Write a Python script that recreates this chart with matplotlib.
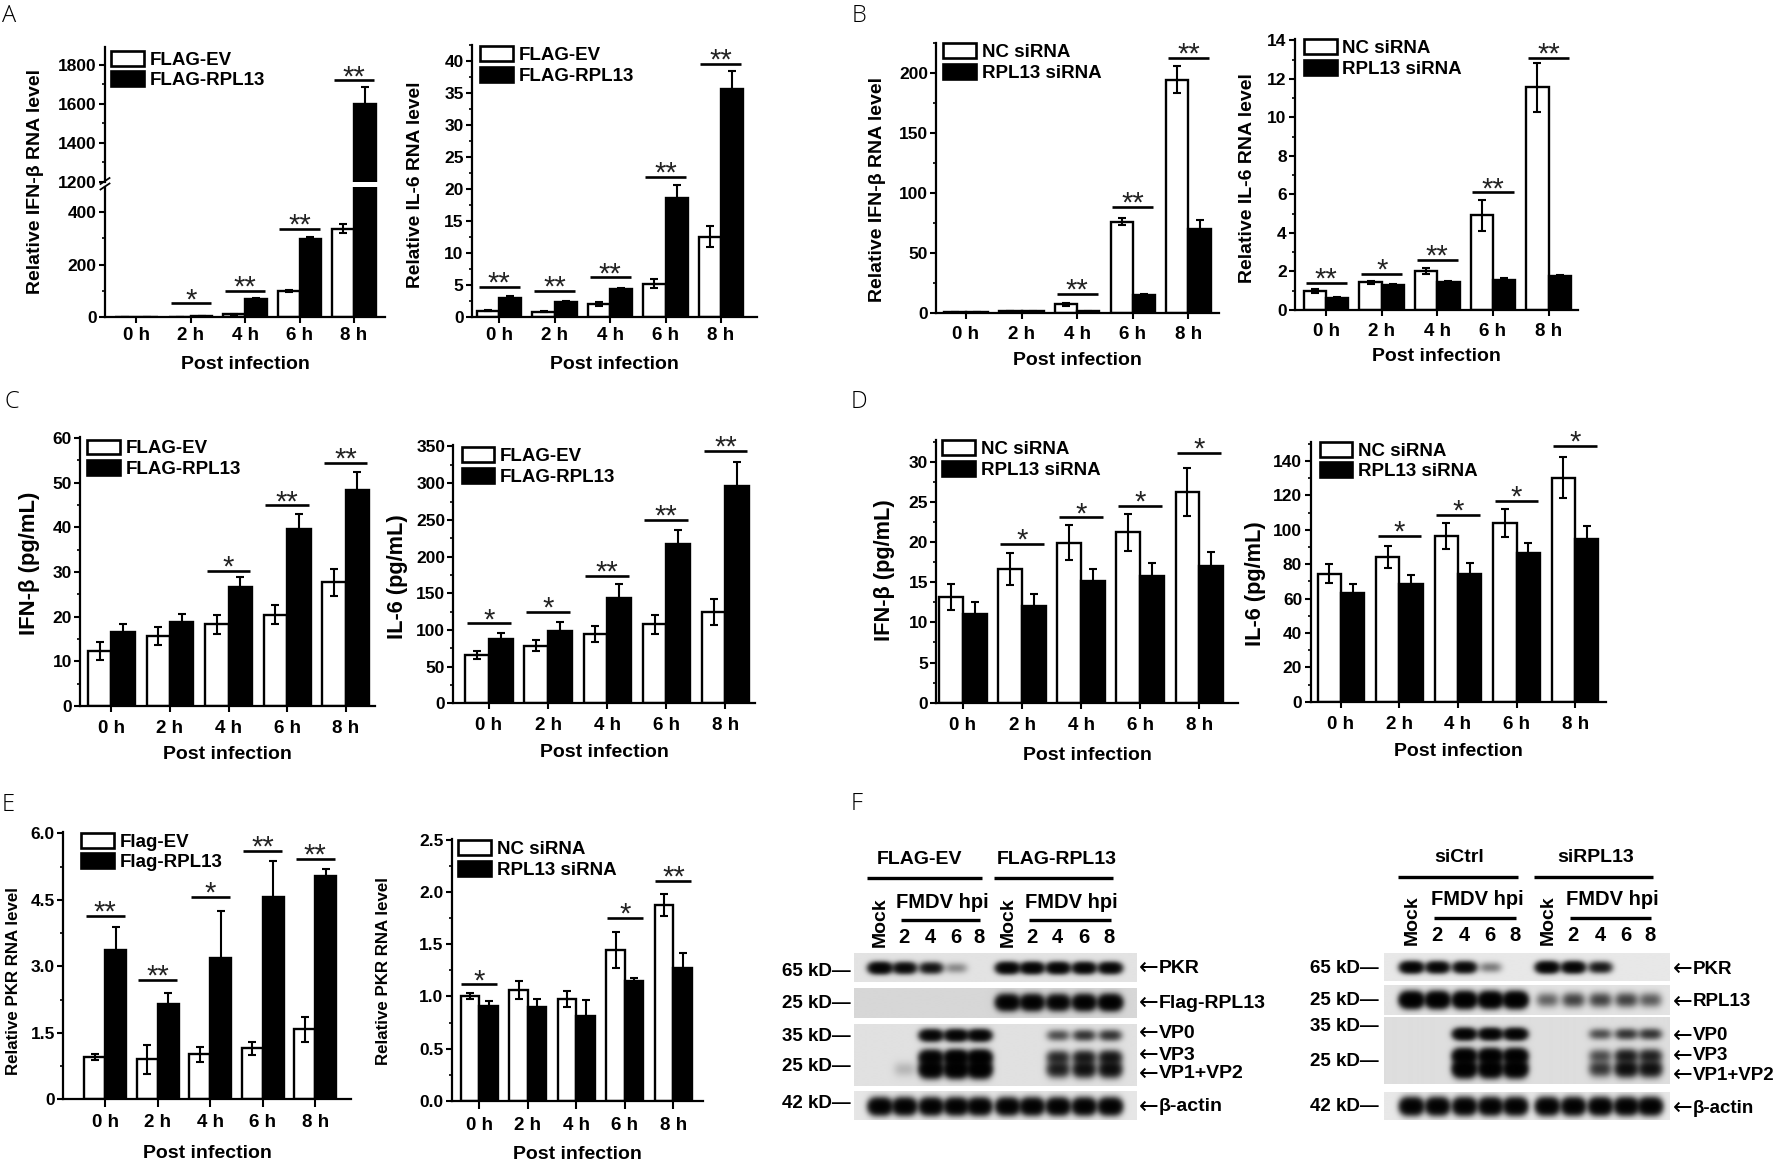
import numpy as np
import matplotlib
matplotlib.use('Agg')
import matplotlib.pyplot as plt
from matplotlib.patches import Patch
from matplotlib.ticker import MultipleLocator, FixedLocator, FixedFormatter
from matplotlib import font_manager

# ======================= DATA =======================
times = ['0 h', '2 h', '4 h', '6 h', '8 h']

# A  RT-qPCR (FLAG-EV vs FLAG-RPL13)
a1_ev = [1.0, 2.5, 12, 100, 336]
a1_ev_err = [0.3, 0.5, 2, 5, 18]
a1_rpl = [2.5, 4.5, 68, 298, 1600]
a1_rpl_err = [0.4, 0.8, 6, 8, 88]
a1_sig = ['', '*', '**', '**', '**']
a1_sig_y = [np.nan, 53, 99, 336, 1721]

a2_ev = [1.04, 0.88, 2.08, 5.2, 12.6]
a2_ev_err = [0.1, 0.1, 0.3, 0.7, 1.65]
a2_rpl = [3.07, 2.4, 4.42, 18.6, 35.6]
a2_rpl_err = [0.3, 0.2, 0.2, 2.05, 2.8]
a2_sig = ['**', '**', '**', '**', '**']
a2_sig_y = [4.8, 4.16, 6.24, 21.95, 39.6]

# B  RT-qPCR (NC siRNA vs RPL13 siRNA)
b1_nc = [1.0, 1.8, 7.5, 76.2, 194.5]
b1_nc_err = [0.2, 0.3, 1.2, 3.0, 11]
b1_rpl = [0.8, 1.5, 1.7, 15.2, 70.4]
b1_rpl_err = [0.1, 0.2, 0.3, 1.0, 7.2]
b1_sig = ['', '', '**', '**', '**']
b1_sig_y = [np.nan, np.nan, 16, 88.6, 212.7]

b2_nc = [1.0, 1.43, 2.02, 4.91, 11.55]
b2_nc_err = [0.1, 0.1, 0.17, 0.8, 1.27]
b2_rpl = [0.6, 1.29, 1.47, 1.55, 1.76]
b2_rpl_err = [0.05, 0.05, 0.05, 0.12, 0.07]
b2_sig = ['**', '*', '**', '**', '**']
b2_sig_y = [1.41, 1.86, 2.59, 6.1, 13.07]

# C  ELISA (FLAG-EV vs FLAG-RPL13)
c1_ev = [12.3, 15.7, 18.3, 20.4, 27.7]
c1_ev_err = [2.0, 2.0, 2.1, 2.1, 3.0]
c1_rpl = [16.5, 18.7, 26.7, 39.5, 48.4]
c1_rpl_err = [1.8, 1.8, 2.1, 3.5, 4.0]
c1_sig = ['', '', '*', '**', '**']
c1_sig_y = [np.nan, np.nan, 30.3, 44.9, 54.4]

c2_ev = [65.9, 78.6, 94.5, 107.7, 124.5]
c2_ev_err = [6, 8, 11, 13, 18]
c2_rpl = [87.3, 99, 143.2, 216.8, 296.8]
c2_rpl_err = [9, 12, 20, 20, 32]
c2_sig = ['*', '*', '**', '**', '**']
c2_sig_y = [109, 125, 174, 250, 344]

# D  ELISA (NC siRNA vs RPL13 siRNA)
d1_nc = [13.15, 16.64, 19.92, 21.2, 26.18]
d1_nc_err = [1.6, 2.0, 2.2, 2.3, 3.0]
d1_rpl = [11.08, 12.07, 15.15, 15.81, 17.05]
d1_rpl_err = [1.4, 1.45, 1.5, 1.55, 1.75]
d1_sig = ['', '*', '*', '*', '*']
d1_sig_y = [np.nan, 19.75, 23.07, 24.52, 31.12]

d2_nc = [74.3, 84.0, 96.4, 104.1, 130.3]
d2_nc_err = [5.5, 6.3, 7.5, 8.2, 12]
d2_rpl = [63.4, 68.4, 74.3, 86.3, 94.4]
d2_rpl_err = [5, 5.5, 6.3, 6.2, 7.7]
d2_sig = ['', '*', '*', '*', '*']
d2_sig_y = [np.nan, 96.4, 108.6, 116.9, 148.7]

# E  PKR RT-qPCR
e1_ev = [0.96, 0.9, 1.02, 1.15, 1.58]
e1_ev_err = [0.07, 0.32, 0.17, 0.15, 0.28]
e1_rpl = [3.38, 2.14, 3.2, 4.57, 5.05]
e1_rpl_err = [0.5, 0.26, 1.05, 0.8, 0.15]
e1_sig = ['**', '**', '*', '**', '**']
e1_sig_y = [4.14, 2.69, 4.57, 5.6, 5.43]

e2_nc = [1.004, 1.06, 0.975, 1.445, 1.876]
e2_nc_err = [0.025, 0.085, 0.08, 0.175, 0.105]
e2_rpl = [0.908, 0.90, 0.815, 1.15, 1.27]
e2_rpl_err = [0.05, 0.08, 0.15, 0.03, 0.145]
e2_sig = ['*', '', '', '*', '**']
e2_sig_y = [1.115, np.nan, np.nan, 1.754, 2.11]

# F  Western blots (relative band intensity per lane)
blot_lanes = ['Mock', '2', '4', '6', '8', 'Mock', '2', '4', '6', '8']
fl_groups = ['FLAG-EV', 'FLAG-RPL13']
fl_pkr = [1.0, 0.8, 0.6, 0.12, 0.0, 1.0, 1.0, 1.0, 0.95, 0.9]
fl_flag = [0, 0, 0, 0, 0, 1.1, 1.1, 1.0, 1.1, 1.2]
fl_vp0 = [0, 0, 0.9, 0.95, 0.95, 0, 0, 0.25, 0.35, 0.35]
fl_vp3 = [0, 0, 1.0, 1.2, 1.2, 0, 0, 0.4, 0.5, 0.55]
fl_vp12 = [0, 0.05, 1.2, 1.3, 1.3, 0, 0, 0.5, 0.65, 0.7]
fl_actin = [1.1, 1.1, 1.1, 1.1, 1.1, 1.1, 1.1, 1.1, 1.1, 1.1]

si_groups = ['siCtrl', 'siRPL13']
si_pkr = [1.0, 0.9, 0.85, 0.15, 0.0, 1.0, 0.95, 0.55, 0.0, 0.0]
si_rpl = [1.4, 1.4, 1.4, 1.4, 1.4, 0.2, 0.3, 0.3, 0.3, 0.22]
si_vp0 = [0, 0, 1.0, 1.0, 1.0, 0, 0, 0.25, 0.35, 0.35]
si_vp3 = [0, 0, 1.2, 1.2, 1.2, 0, 0, 0.25, 0.5, 0.45]
si_vp12 = [0, 0, 1.3, 1.3, 1.3, 0, 0, 0.35, 0.7, 0.65]
si_actin = [1.1, 1.1, 1.1, 1.1, 1.1, 1.1, 1.1, 1.1, 1.1, 1.1]

# ======================= STYLE / LAYOUT =======================
W, H = 1773, 1160
names = {f.name for f in font_manager.fontManager.ttflist}
MAIN = 'Liberation Sans' if 'Liberation Sans' in names else 'DejaVu Sans'
FAM = [MAIN, 'DejaVu Sans']
plt.rcParams['font.family'] = FAM
plt.rcParams['font.weight'] = 'bold'
plt.rcParams['axes.labelweight'] = 'bold'
plt.rcParams['axes.linewidth'] = 1.6
LETTER_FAM = ['Open Sans', 'DejaVu Sans'] if 'Open Sans' in names else FAM

fig = plt.figure(figsize=(W / 100, H / 100), dpi=100)


def px_axes(l, t, r, b, **kw):
    return fig.add_axes([l / W, 1 - b / H, (r - l) / W, (b - t) / H], **kw)


def style_ax(ax, xlim, ylim, major, minor, show_x=True, tickpad=3, xticklen=4):
    ax.set_xlim(*xlim)
    ax.set_ylim(*ylim)
    for s in ['top', 'right']:
        ax.spines[s].set_visible(False)
    ax.yaxis.set_major_locator(FixedLocator(major))
    ax.yaxis.set_minor_locator(MultipleLocator(minor))
    ax.tick_params(axis='y', which='major', direction='out', length=4, width=1.5, labelsize=12.5, pad=2)
    ax.tick_params(axis='y', which='minor', direction='out', length=2.5, width=1.2)
    if show_x:
        ax.set_xticks(np.arange(len(times)))
        ax.set_xticklabels(times)
        ax.tick_params(axis='x', direction='out', length=xticklen, width=1.5, labelsize=13.5,
                       pad=tickpad)
    else:
        ax.spines['bottom'].set_visible(False)
        ax.set_xticks([])


def draw_bars(ax, ctrl, cerr, trt, terr, width=0.4):
    x = np.arange(len(times))
    ax.bar(x - width / 2, ctrl, width, color='white', edgecolor='black', linewidth=1.7, zorder=2)
    ax.bar(x + width / 2, trt, width, color='black', edgecolor='black', linewidth=1.7, zorder=2)
    ax.errorbar(x - width / 2, ctrl, yerr=cerr, fmt='none', ecolor='black', elinewidth=1.5,
                capsize=3.2, capthick=1.5, zorder=3)
    ax.errorbar(x + width / 2, trt, yerr=terr, fmt='none', ecolor='black', elinewidth=1.5,
                capsize=3.2, capthick=1.5, zorder=3)


def draw_sig(ax, sig, sig_y, half=0.37, fs=21):
    lo, hi = ax.get_ylim()
    for xi, s, yv in zip(np.arange(len(times)), sig, sig_y):
        if s and lo <= yv <= hi:
            ax.plot([xi - half, xi + half], [yv, yv], color='black', lw=1.9,
                    solid_capstyle='butt', clip_on=False, zorder=4)
            ax.annotate(s, (xi, yv), xytext=(0, -3.5), textcoords='offset points',
                        ha='center', va='baseline', fontsize=fs, fontweight='normal',
                        color='#222222', annotation_clip=False)


def add_legend(ax, labels, dx, dy):
    handles = [Patch(facecolor='white', edgecolor='black', linewidth=1.9),
               Patch(facecolor='black', edgecolor='black', linewidth=1.9)]
    pos = ax.get_position()
    ax.legend(handles, labels, loc='upper left',
              bbox_to_anchor=(pos.x0 + dx / W, pos.y1 - dy / H), bbox_transform=fig.transFigure,
              frameon=False, borderaxespad=0, borderpad=0, handlelength=1.75, handleheight=0.85,
              handletextpad=0.3, labelspacing=0.14, prop={'weight': 'bold', 'size': 13.5})


def bar_panel(rect, ctrl, cerr, trt, terr, sig, sig_y, xlim, ylim, major, minor,
              labels, leg_dx, leg_dy, width=0.4, ticklabels=None, tickpad=3, labelpad=8,
              xticklen=4):
    ax = px_axes(*rect)
    draw_bars(ax, ctrl, cerr, trt, terr, width)
    style_ax(ax, xlim, ylim, major, minor, tickpad=tickpad, xticklen=xticklen)
    if ticklabels is not None:
        ax.yaxis.set_major_formatter(FixedFormatter(ticklabels))
    draw_sig(ax, sig, sig_y)
    add_legend(ax, labels, leg_dx, leg_dy)
    ax.set_xlabel('Post infection', fontsize=14, labelpad=labelpad)
    return ax


flag_lab = ['FLAG-EV', 'FLAG-RPL13']
si_lab = ['NC siRNA', 'RPL13 siRNA']

# ---------- A1 (broken axis) ----------
a1_lo = px_axes(105, 186.7, 385, 317.3)
a1_hi = px_axes(105, 46.7, 385, 181.7)
for ax in (a1_lo, a1_hi):
    draw_bars(ax, a1_ev, a1_ev_err, a1_rpl, a1_rpl_err)
style_ax(a1_lo, (-0.575, 4.57), (0, 495), [0, 200, 400], 100)
style_ax(a1_hi, (-0.575, 4.57), (1200, 1894), [1200, 1400, 1600, 1800], 100, show_x=False)
draw_sig(a1_lo, a1_sig, a1_sig_y)
draw_sig(a1_hi, a1_sig, a1_sig_y)
add_legend(a1_hi, flag_lab, 6, 4)
a1_lo.set_xlabel('Post infection', fontsize=14, labelpad=8.3)

# ---------- other bar panels ----------
bar_panel((472, 45, 757, 317.3), a2_ev, a2_ev_err, a2_rpl, a2_rpl_err, a2_sig, a2_sig_y,
          (-0.49, 4.65), (0, 42.5), [0, 5, 10, 15, 20, 25, 30, 35, 40], 2.5, flag_lab, 8, 1,
          tickpad=3, labelpad=8.3)
bar_panel((936.5, 43, 1219, 313.3), b1_nc, b1_nc_err, b1_rpl, b1_rpl_err, b1_sig, b1_sig_y,
          (-0.53, 4.55), (0, 225), [0, 50, 100, 150, 200], 25, si_lab, 7, 0,
          tickpad=5.2, labelpad=6.1)
bar_panel((1295, 39.3, 1578, 310), b2_nc, b2_nc_err, b2_rpl, b2_rpl_err, b2_sig, b2_sig_y,
          (-0.56, 4.53), (0, 14.05), [0, 2, 4, 6, 8, 10, 12, 14], 1, si_lab, 9, 0,
          tickpad=5.2, labelpad=6.1)
bar_panel((80.3, 436.5, 375, 706), c1_ev, c1_ev_err, c1_rpl, c1_rpl_err, c1_sig, c1_sig_y,
          (-0.53, 4.5), (0, 60.3), [0, 10, 20, 30, 40, 50, 60], 5, flag_lab, 7, 3,
          tickpad=5.9, labelpad=6.9)
bar_panel((453.5, 445, 755, 703.3), c2_ev, c2_ev_err, c2_rpl, c2_rpl_err, c2_sig, c2_sig_y,
          (-0.6, 4.5), (0, 352), [0, 50, 100, 150, 200, 250, 300, 350], 25, flag_lab, 8, 2,
          tickpad=5.9, labelpad=6.9)
bar_panel((936.4, 440, 1237.5, 702.7), d1_nc, d1_nc_err, d1_rpl, d1_rpl_err, d1_sig, d1_sig_y,
          (-0.45, 4.65), (0, 32.7), [0, 5, 10, 15, 20, 25, 30], 2.5, si_lab, 6, 0,
          tickpad=6.2, labelpad=9.5)
bar_panel((1310.5, 441.7, 1605.5, 701.7), d2_nc, d2_nc_err, d2_rpl, d2_rpl_err, d2_sig, d2_sig_y,
          (-0.52, 4.52), (0, 151.2), [0, 20, 40, 60, 80, 100, 120, 140], 10, si_lab, 9, 0,
          tickpad=6.2, labelpad=7.5)
bar_panel((63.3, 831.7, 350.8, 1099.3), e1_ev, e1_ev_err, e1_rpl, e1_rpl_err, e1_sig, e1_sig_y,
          (-0.8, 4.68), (0, 6.04), [0, 1.5, 3.0, 4.5, 6.0], 0.75, ['Flag-EV', 'Flag-RPL13'], 18, 1,
          width=0.4, ticklabels=['0', '1.5', '3.0', '4.5', '6.0'], tickpad=5.2, labelpad=9.8,
          xticklen=5.5)
bar_panel((451.7, 839, 703, 1100.7), e2_nc, e2_nc_err, e2_rpl, e2_rpl_err, e2_sig, e2_sig_y,
          (-0.57, 4.61), (0, 2.51), [0, 0.5, 1.0, 1.5, 2.0, 2.5], 0.25, si_lab, 6.6, 1, width=0.38,
          ticklabels=['0.0', '0.5', '1.0', '1.5', '2.0', '2.5'], tickpad=6.1, labelpad=8.6,
          xticklen=5.5)

# ======================= BLOTS =======================
def blot(rect, lane_x, bands, bg, hw=10.5):
    l, t, r, b = rect
    ax = px_axes(l, t, r, b)
    nx, ny = int((r - l) * 2), int((b - t) * 2)
    X, Y = np.meshgrid(np.linspace(l, r, nx), np.linspace(t, b, ny))
    dens = np.zeros_like(X)
    for yc, hh, intens in bands:
        for xc, inten in zip(lane_x, intens):
            if inten > 0:
                dens += inten * np.exp(-np.abs((X - xc) / hw) ** 3) * np.exp(-((Y - yc) / hh) ** 2)
    img = bg * np.exp(-4.0 * dens)
    ax.imshow(img, extent=(l, r, b, t), cmap='gray', vmin=0, vmax=1, aspect='auto',
              interpolation='bilinear')
    ax.set_xlim(l, r)
    ax.set_ylim(b, t)
    ax.axis('off')


lx_left = [879.5, 904, 930.5, 955.5, 979, 1007, 1031.5, 1057.5, 1083.5, 1109.5]
lx_right = [1411, 1437, 1464, 1490, 1515, 1547, 1573, 1600, 1626, 1650]

blot((853.5, 953.3, 1136, 981.7), lx_left, [(968, 4.8, fl_pkr)], 0.89)
blot((853.5, 987.7, 1136, 1018.3), lx_left, [(1003, 6.5, fl_flag)], 0.84)
blot((853.5, 1024.3, 1136, 1086), lx_left,
     [(1035.5, 5, fl_vp0), (1057.5, 6, fl_vp3), (1069.5, 7, fl_vp12)], 0.88)
blot((853.5, 1091, 1136, 1120), lx_left, [(1106.5, 7, fl_actin)], 0.90)

blot((1383.5, 952.7, 1669.4, 981), lx_right, [(967.7, 4.8, si_pkr)], 0.91)
blot((1383.5, 985, 1669.4, 1015.5), lx_right, [(1000.7, 6.5, si_rpl)], 0.89)
blot((1383.5, 1017, 1669.4, 1084), lx_right,
     [(1034, 5, si_vp0), (1056, 6, si_vp3), (1069, 7, si_vp12)], 0.87)
blot((1383.5, 1091.7, 1669.4, 1120), lx_right, [(1106.7, 7, si_actin)], 0.91)

# ======================= OVERLAY TEXT =======================
ov = fig.add_axes([0, 0, 1, 1], zorder=20)
ov.set_xlim(0, W)
ov.set_ylim(H, 0)
ov.axis('off')
ov.patch.set_alpha(0)

# panel letters
for lab, (x, y) in zip('ABCDEF', [(2, 16.5), (852, 16.5), (4, 402), (851, 402), (2, 805), (851, 804)]):
    ov.text(x, y, lab, family=LETTER_FAM, fontweight='light', fontsize=17, ha='left', va='center')

# y-axis labels
ylabels = [('Relative IFN-β RNA level', 36, 182, 14), ('Relative IL-6 RNA level', 415, 185, 13.8),
           ('Relative IFN-β RNA level', 877.5, 189, 14), ('Relative IL-6 RNA level', 1248, 178.5, 14),
           ('IFN-β (pg/mL)', 30, 563, 15.8), ('IL-6 (pg/mL)', 397, 577, 15.7),
           ('IFN-β (pg/mL)', 884.7, 570, 15.7), ('IL-6 (pg/mL)', 1255.8, 584, 15.7),
           ('Relative PKR RNA level', 13.5, 981, 12.2), ('Relative PKR RNA level', 383, 971, 12.2)]
for txt, x, y, fs in ylabels:
    ov.text(x, y, txt, rotation=90, ha='center', va='center', fontsize=fs, fontweight='bold')

# break marks on A1 y-axis
for yy in (181.0, 186.5):
    ov.plot([100.5, 109.5], [yy + 3, yy - 3], color='black', lw=1.3)


# blot annotation
def blot_labels(lane_x, groups, gy, title_y, hpi_y, lane_y, title_x):
    for g in range(2):
        xs = lane_x[g * 5:g * 5 + 5]
        ov.text(title_x[g], title_y, groups[g], ha='center', va='center', fontsize=14)
        ov.plot([xs[0] - 13, xs[-1] + 3], [gy, gy], color='black', lw=2.4, solid_capstyle='butt')
        ov.text((xs[1] + xs[-1]) / 2 + 1, hpi_y, 'FMDV hpi', ha='center', va='center', fontsize=14.5)
        ov.plot([xs[1] - 3, xs[-1] + 1], [hpi_y + 18, hpi_y + 18], color='black', lw=2.4,
                solid_capstyle='butt')
    for x, lab in zip(lane_x, blot_lanes):
        if lab == 'Mock':
            ov.text(x + 1, lane_y, lab, rotation=90, ha='center', va='bottom', fontsize=14)
        else:
            ov.text(x, lane_y, lab, ha='center', va='bottom', fontsize=14.5)


blot_labels(lx_left, fl_groups, 877.7, 860, 902, 947, [920, 1057])
blot_labels(lx_right, si_groups, 877.3, 858, 899.5, 945, [1459.6, 1595.2])

# kD markers
for txt, y in [('65 kD—', 971), ('25 kD—', 1003), ('35 kD—', 1036.5), ('25 kD—', 1066.5), ('42 kD—', 1103)]:
    ov.text(851, y, txt, ha='right', va='center', fontsize=13.5)
for txt, y in [('65 kD—', 968.3), ('25 kD—', 1000.7), ('35 kD—', 1026.7), ('25 kD—', 1061), ('42 kD—', 1106.7)]:
    ov.text(1379, y, txt, ha='right', va='center', fontsize=13.5)


# band names with arrows
def band_label(x, y, txt, fs):
    ov.text(x, y, '←', ha='left', va='center', fontsize=17, family=['DejaVu Sans'], fontweight='normal')
    ov.text(x + 20, y, txt, ha='left', va='center', fontsize=fs)


for txt, y in [('PKR', 968.3), ('Flag-RPL13', 1003.3), ('VP0', 1033.3), ('VP3', 1055),
               ('VP1+VP2', 1073.5), ('β-actin', 1106.7)]:
    band_label(1138.5, y, txt, 14)
for txt, y in [('PKR', 969.3), ('RPL13', 1001.7), ('VP0', 1036), ('VP3', 1056),
               ('VP1+VP2', 1075), ('β-actin', 1108.3)]:
    band_label(1672.5, y, txt, 13.5)

fig.savefig('out.png', dpi=100)
